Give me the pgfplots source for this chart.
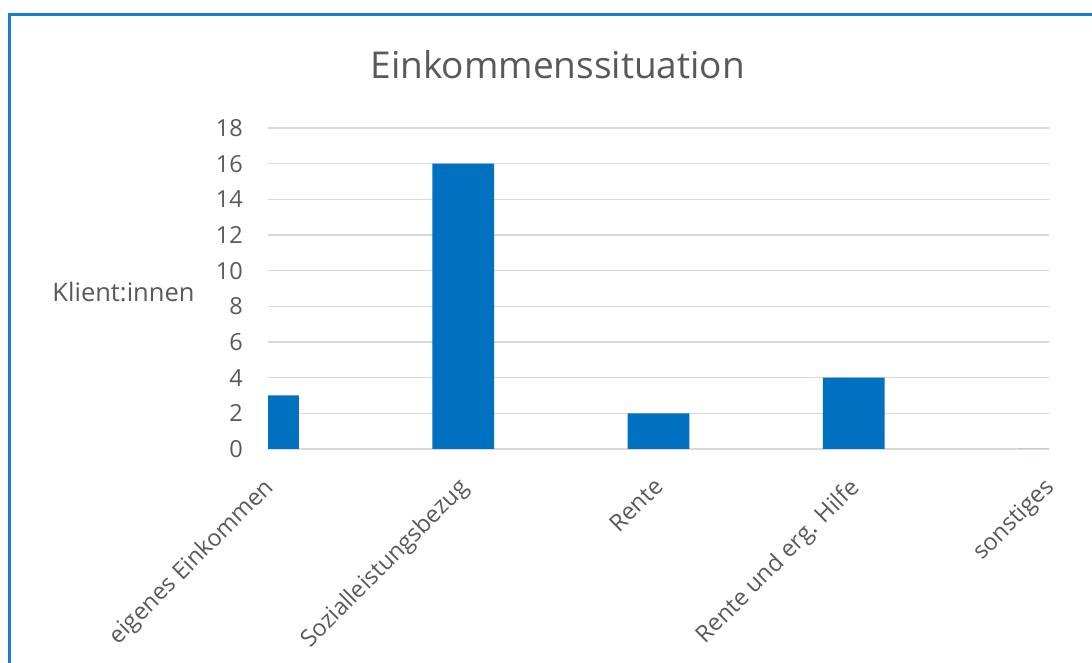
\documentclass[border=0pt]{standalone}
\usepackage{fontspec}
\setmainfont{Open Sans}
\usepackage{pgfplots}
\pgfplotsset{compat=1.18}
\definecolor{barblue}{RGB}{0,112,192}
\definecolor{frameblue}{RGB}{18,128,204}
\definecolor{txt}{RGB}{89,89,89}
\definecolor{gridc}{RGB}{217,217,217}
\begin{document}
\begin{tikzpicture}[x=1pt,y=1pt]
\path[use as bounding box] (0,0) rectangle (1092,663);
\draw[frameblue, line width=3pt] (9,0) -- (9,648) -- (1093,648);
\begin{axis}[
    at={(268pt,214pt)}, anchor=south west,
    scale only axis, width=781pt, height=321pt,
    xmin=0, xmax=4, ymin=0, ymax=18,
    ytick={0,2,...,18},
    xtick={0,1,2,3,4},
    xticklabels={eigenes Einkommen, Sozialleistungsbezug, Rente, Rente und erg. Hilfe, sonstiges},
    axis line style={draw=none},
    major tick length=0pt,
    ymajorgrids=true,
    grid style={gridc, line width=1.5pt},
    ybar, bar width=61.6pt,
    /pgf/number format/assume math mode=true,
    ticklabel style={font=\fontsize{23.5}{28}\selectfont, text=txt},
    yticklabel style={anchor=east, inner sep=0pt, xshift=-25pt},
    xticklabel style={xshift=-6pt, yshift=-27pt, rotate=45, anchor=north east, inner sep=0pt},
    title={Einkommenssituation},
    title style={font=\fontsize{37}{44}\selectfont, text=txt, at={(rel axis cs:0.371,1)}, anchor=base, yshift=43pt},
    ylabel={Klient:innen},
    ylabel style={rotate=-90, font=\fontsize{25.5}{30}\selectfont, text=txt, at={(rel axis cs:0,0.459)}, anchor=base east, xshift=-70pt},
]
\addplot[fill=barblue, draw=none] coordinates {(0,3) (1,16) (2,2) (3,4) (4,0)};
\end{axis}
\end{tikzpicture}
\end{document}
